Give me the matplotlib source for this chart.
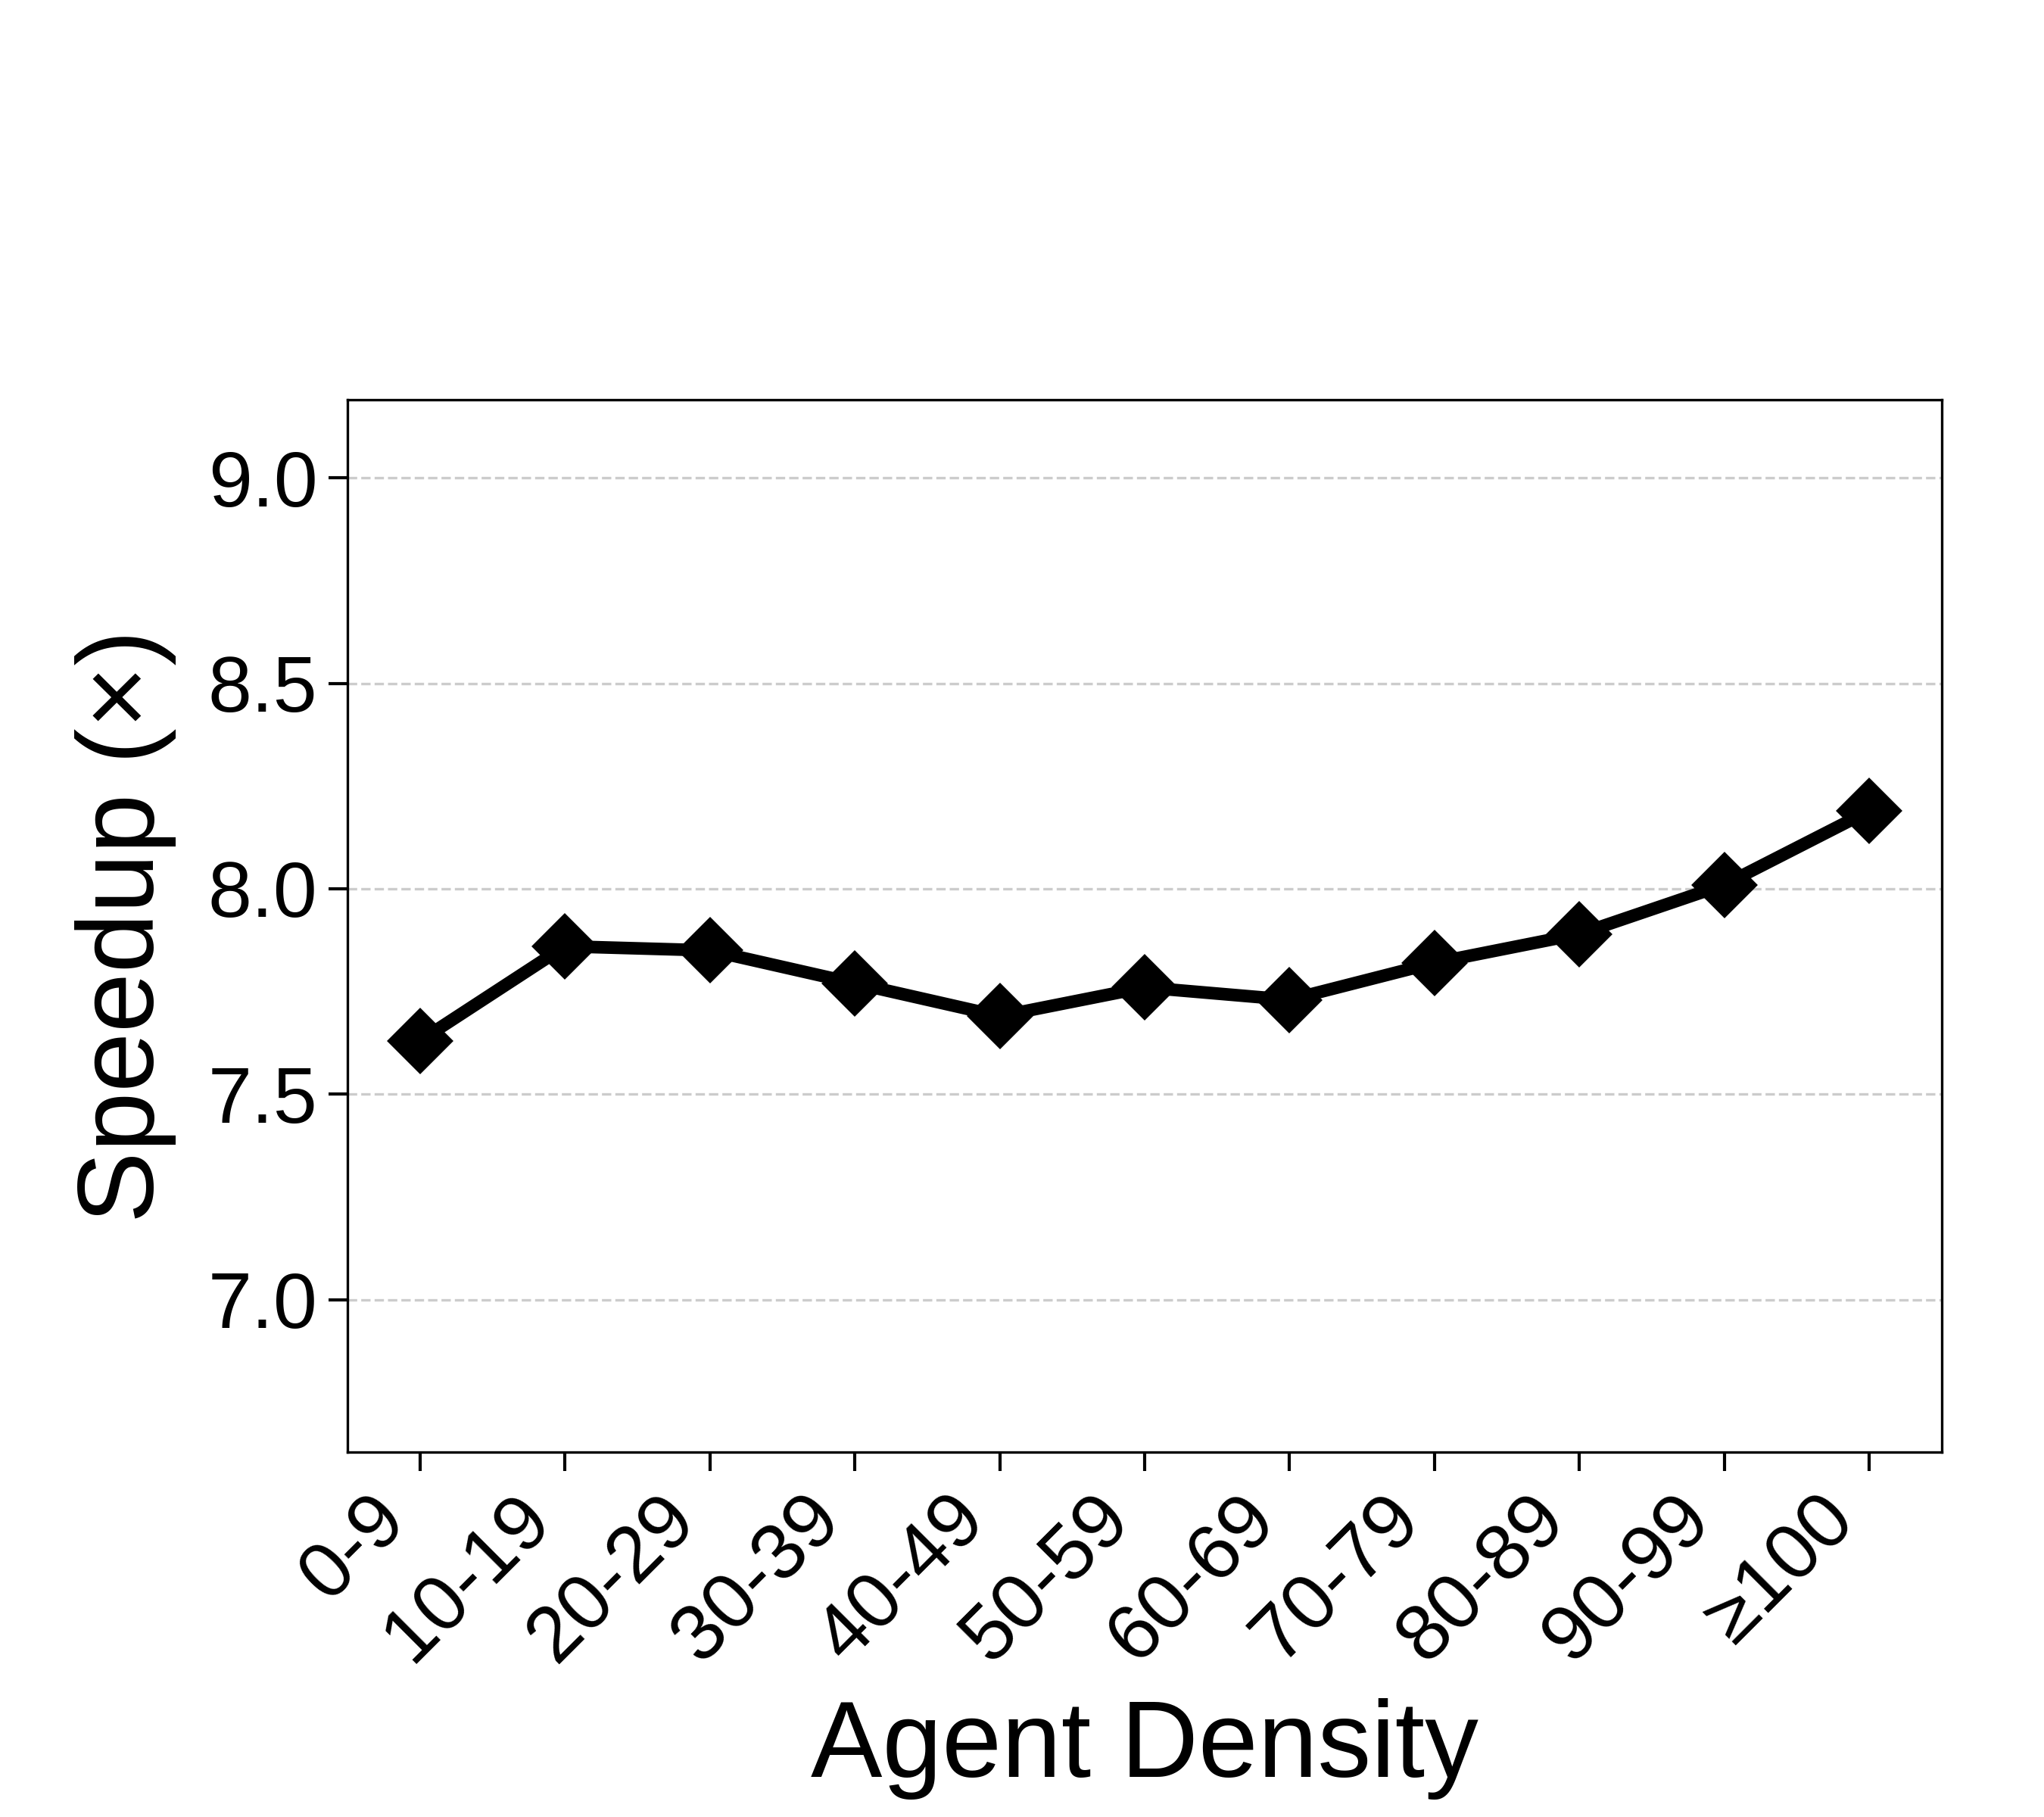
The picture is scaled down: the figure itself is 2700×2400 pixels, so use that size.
import numpy as np
import matplotlib
matplotlib.use("Agg")
import matplotlib.pyplot as plt

plt.rcParams['font.family'] = ['Liberation Sans', 'DejaVu Sans']

# Datos
categorias = ['0-9', '10-19', '20-29', '30-39', '40-49', '50-59',
              '60-69', '70-79', '80-89', '90-99', '≥100']
speedup = [7.63, 7.86, 7.85, 7.77, 7.69, 7.76, 7.73, 7.82, 7.89, 8.01, 8.19]
yticks = [7.0, 7.5, 8.0, 8.5, 9.0]

x = np.arange(len(categorias))

fig = plt.figure(figsize=(9, 8), dpi=300)
ax = fig.add_axes([0.170, 0.201, 0.780, 0.579])

ax.plot(x, speedup, color='black', linewidth=4, marker='D', markersize=14)

ax.set_xlim(-0.5, len(categorias) - 0.5)
ax.set_ylim(min(speedup) - 1, max(speedup) + 1)
ax.set_yticks(yticks)
ax.set_yticklabels([f"{v:.1f}" for v in yticks])
ax.set_xticks(x)
ax.set_xticklabels(categorias, rotation=45, ha='right')
ax.tick_params(axis='both', labelsize=25, length=6, width=1)
ax.grid(True, axis='y', linestyle='--', color='#cccccc', linewidth=0.8)
ax.set_axisbelow(True)

ax.set_xlabel("Agent Density", fontsize=34, labelpad=7)
ax.set_ylabel("Speedup (×)", fontsize=34, labelpad=10)

fig.savefig("out.png", dpi=300)
